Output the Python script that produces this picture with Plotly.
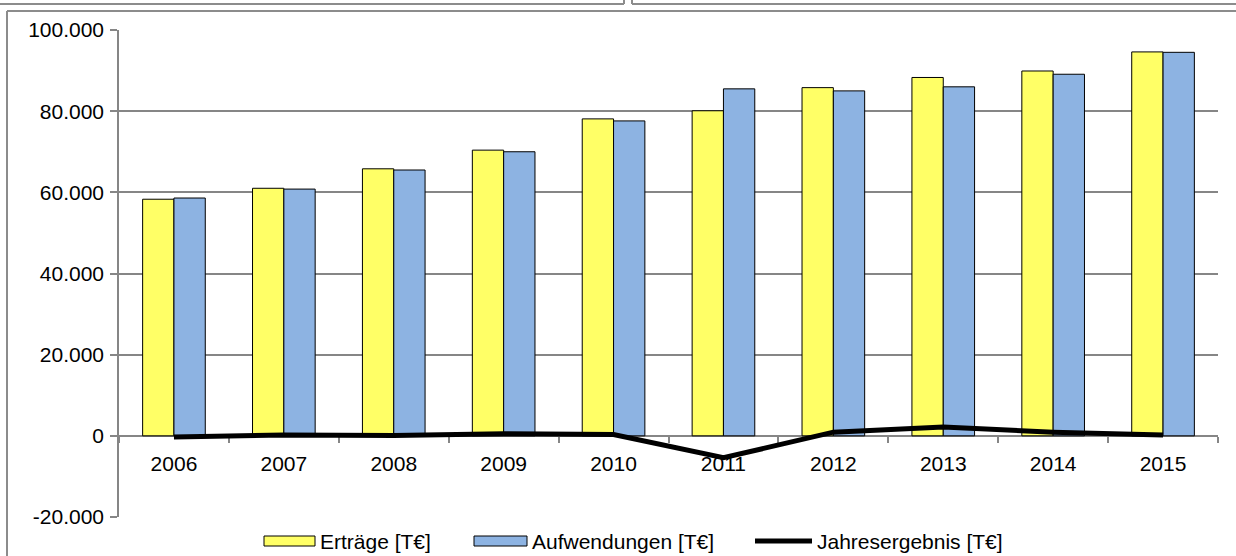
import plotly.graph_objects as go

years = ['2006', '2007', '2008', '2009', '2010', '2011', '2012', '2013', '2014', '2015']
ertraege = [58300, 61000, 65800, 70400, 78100, 80100, 85800, 88300, 89900, 94600]
aufwendungen = [58600, 60800, 65500, 70000, 77600, 85500, 85000, 86000, 89100, 94500]
jahresergebnis = [-300, 200, 100, 500, 300, -5400, 900, 2200, 900, 200]

y_ticks = [-20000, 0, 20000, 40000, 60000, 80000, 100000]
y_ticktext = ['-20.000', '0', '20.000', '40.000', '60.000', '80.000', '100.000']

names = ['Erträge [T€]', 'Aufwendungen [T€]', 'Jahresergebnis [T€]']
colors = ['#FFFF66', '#8DB3E2', '#000000']

GRID = '#868686'
FRAME = '#8c8c8c'
W, H = 1236, 556
L, R, T, B = 119, 1218, 30, 517   # plot area in page pixels


def px(x):
    return (x - L) / (R - L)


def py(y):
    return (B - y) / (B - T)


fig = go.Figure()
fig.add_trace(go.Bar(x=years, y=ertraege, name=names[0],
                     marker=dict(color=colors[0], line=dict(color='#000000', width=1))))
fig.add_trace(go.Bar(x=years, y=aufwendungen, name=names[1],
                     marker=dict(color=colors[1], line=dict(color='#000000', width=1))))
fig.add_trace(go.Scatter(x=years, y=jahresergebnis, name=names[2],
                         mode='lines', line=dict(color=colors[2], width=5)))

# frames of the surrounding report page
frames = [
    (0, 4, 624, 4), (624, 0, 624, 4), (632, 0, 632, 4), (632, 4, 1240, 4),
    (7, 11, 1240, 11), (7, 11, 7, 560),
]
for x0, y0, x1, y1 in frames:
    fig.add_shape(type='line', xref='paper', yref='paper',
                  x0=px(x0), y0=py(y0), x1=px(x1), y1=py(y1),
                  line=dict(color=FRAME, width=2))

# legend drawn by hand (wide Excel-style swatches)
swatches = [(264, 315), (474, 527), (755, 812)]
for i, (x0, x1) in enumerate(swatches):
    if i < 2:
        fig.add_shape(type='rect', xref='paper', yref='paper',
                      x0=px(x0), x1=px(x1), y0=py(546), y1=py(536),
                      fillcolor=colors[i], line=dict(color='#000000', width=1))
    else:
        fig.add_shape(type='line', xref='paper', yref='paper',
                      x0=px(x0), x1=px(x1), y0=py(541), y1=py(541),
                      line=dict(color=colors[i], width=5))
    fig.add_annotation(text=names[i], xref='paper', yref='paper',
                       x=px(x1 + 3), y=py(541), xanchor='left', yanchor='middle',
                       showarrow=False, font=dict(size=21, color='#000000'))

fig.update_xaxes(
    type='category', range=[-0.5, 9.5], anchor='free', position=20000 / 120000,
    tickson='boundaries', ticks='outside', ticklen=6, tickcolor=GRID, tickwidth=1.5,
    showline=True, linecolor=GRID, linewidth=1.5, showgrid=False,
    layer='below traces', ticklabelstandoff=9,
    tickfont=dict(size=21, color='#000000'))
fig.update_yaxes(
    range=[-20000, 100000], tickvals=y_ticks, ticktext=y_ticktext,
    showgrid=True, gridcolor=GRID, gridwidth=1.5,
    showline=True, linecolor=GRID, linewidth=1.5,
    ticks='outside', ticklen=7, tickcolor=GRID, tickwidth=1.5,
    zeroline=False, ticklabelstandoff=2,
    tickfont=dict(size=21, color='#000000'))

fig.update_layout(
    width=W, height=H,
    barmode='group', bargap=0.43, bargroupgap=0,
    paper_bgcolor='white', plot_bgcolor='white',
    font=dict(family='Liberation Sans', size=21, color='#000000'),
    margin=dict(l=L, r=W - R, t=T, b=H - B, pad=0),
    showlegend=False,
)

fig.write_html('out.html', config={'displayModeBar': False},
               post_script="document.body.style.margin='0';")
